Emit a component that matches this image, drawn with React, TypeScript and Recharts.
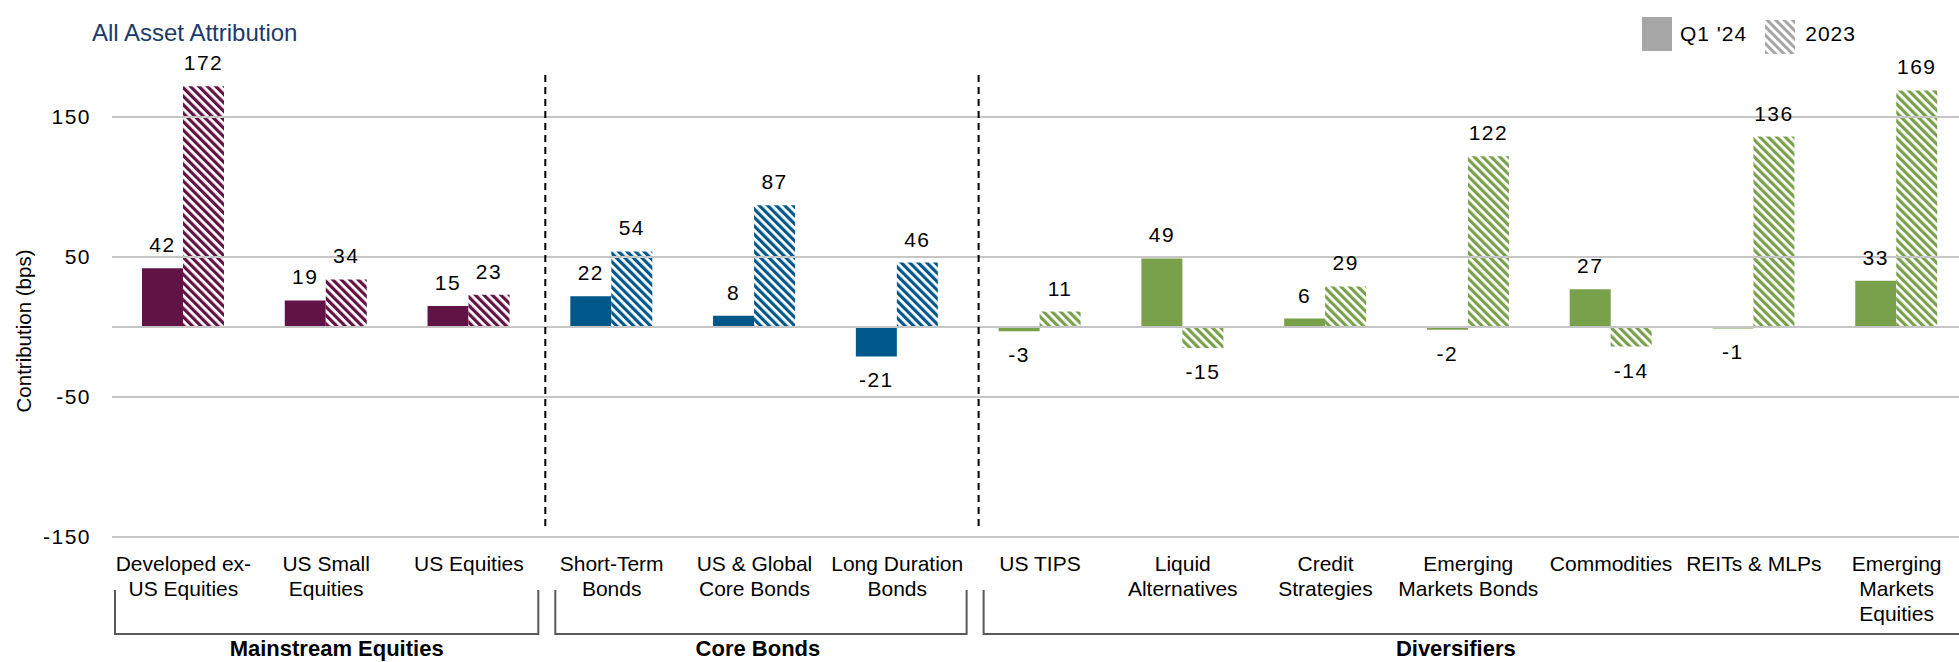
import {
  Bar,
  BarChart,
  Cell,
  LabelList,
  Legend,
  ReferenceLine,
  XAxis,
  YAxis,
} from "recharts";

const categories = [
  "Developed ex-\nUS Equities",
  "US Small\nEquities",
  "US Equities",
  "Short-Term\nBonds",
  "US & Global\nCore Bonds",
  "Long Duration\nBonds",
  "US TIPS",
  "Liquid\nAlternatives",
  "Credit\nStrategies",
  "Emerging\nMarkets Bonds",
  "Commodities",
  "REITs & MLPs",
  "Emerging\nMarkets\nEquities",
];
const categoryGroup = [0, 0, 0, 1, 1, 1, 2, 2, 2, 2, 2, 2, 2];
const q1Values = [42, 19, 15, 22, 8, -21, -3, 49, 6, -2, 27, -1, 33];
const fullYearValues = [172, 34, 23, 54, 87, 46, 11, -15, 29, 122, -14, 136, 169];
const groupNames = ["Mainstream Equities", "Core Bonds", "Diversifiers"];
const seriesNames = ["Q1 '24", "2023"];
const yTicks = [-150, -50, 50, 150];
const gridValues = [-150, -50, 0, 50, 150];

const data = categories.map((name, i) => ({
  name,
  group: categoryGroup[i],
  q1: q1Values[i],
  fy: fullYearValues[i],
}));

// layout
const W = 1959;
const H = 662;
const CHART_W = 1975;
const PLOT_LEFT = 112;
const PLOT_RIGHT = 1968;
const PLOT_TOP = 47;
const PLOT_BOTTOM = 537;
const XAXIS_H = 30;
const BAND = (PLOT_RIGHT - PLOT_LEFT) / categories.length;
const FONT = '"Liberation Sans", Arial, sans-serif';
const groupColors = ["#621345", "#00578a", "#79a04b"];
const dividerAt = [3, 6];
const dividerNudge = [5, 10];
const bracketInset = [3, 15, 15];
const groupLabelShift = [10, -3, -19];

function hatchId(g: number) {
  return `hatch-${g}`;
}

function CategoryTick({ x, y, payload }: any) {
  const lines = String(payload.value).split("\n");
  return (
    <text x={x} y={y} textAnchor="middle" fill="#000" fontSize={21} fontFamily={FONT}>
      {lines.map((l, i) => (
        <tspan key={i} x={x} dy={i === 0 ? 26 : 25}>
          {l}
        </tspan>
      ))}
    </text>
  );
}

function LegendContent() {
  return (
    <div
      style={{
        display: "flex",
        alignItems: "center",
        fontFamily: FONT,
        fontSize: 21,
        letterSpacing: 1,
        color: "#000",
      }}
    >
      <svg width={30} height={34}>
        <rect width={30} height={34} fill="#a6a6a6" />
      </svg>
      <span style={{ marginLeft: 8, marginRight: 18 }}>{seriesNames[0]}</span>
      <svg width={30} height={34} style={{ marginTop: 6 }}>
        <defs>
          <pattern id="hatch-legend" patternUnits="userSpaceOnUse" width={6} height={6} patternTransform="rotate(-45)">
            <rect width={6} height={6} fill="#fff" />
            <rect width={3} height={6} fill="#a6a6a6" />
          </pattern>
        </defs>
        <rect width={30} height={34} fill="url(#hatch-legend)" />
      </svg>
      <span style={{ marginLeft: 10 }}>{seriesNames[1]}</span>
    </div>
  );
}

function Overlay() {
  const spans = groupNames.map((_, g) => {
    const idx = categoryGroup.map((v, i) => (v === g ? i : -1)).filter((i) => i >= 0);
    const left = PLOT_LEFT + idx[0] * BAND + bracketInset[g];
    const right = PLOT_LEFT + (idx[idx.length - 1] + 1) * BAND - 2;
    return { left, right };
  });
  return (
    <svg width={W} height={H} style={{ position: "absolute", left: 0, top: 0, pointerEvents: "none" }}>
      <text x={92} y={41} fontSize={24} fill="#1a3a6c" fontFamily={FONT}>
        All Asset Attribution
      </text>
      <text
        x={0}
        y={0}
        transform="translate(31, 331) rotate(-90)"
        textAnchor="middle"
        fontSize={20.5}
        fill="#000"
        fontFamily={FONT}
      >
        Contribution (bps)
      </text>
      {dividerAt.map((d, k) => {
        const x = PLOT_LEFT + d * BAND + dividerNudge[k];
        return (
          <line
            key={d}
            x1={x}
            x2={x}
            y1={75}
            y2={531}
            stroke="#000"
            strokeWidth={2}
            strokeDasharray="7 5"
          />
        );
      })}
      {spans.map((s, g) => (
        <g key={g}>
          <polyline
            points={`${s.left},590 ${s.left},634 ${s.right},634 ${s.right},590`}
            fill="none"
            stroke="#595959"
            strokeWidth={2}
          />
          <text
            x={(s.left + s.right) / 2 + groupLabelShift[g]}
            y={656}
            textAnchor="middle"
            fontSize={22}
            fontWeight="bold"
            fill="#000"
            fontFamily={FONT}
          >
            {groupNames[g]}
          </text>
        </g>
      ))}
    </svg>
  );
}

const valueLabel = { fill: "#000", fontSize: 21, fontFamily: FONT, letterSpacing: 1.5 };

export default function App() {
  return (
    <div
      style={{
        position: "absolute",
        left: 0,
        top: 0,
        width: W,
        height: H,
        overflow: "hidden",
        background: "#fff",
        fontFamily: FONT,
      }}
    >
      <BarChart
        width={CHART_W}
        height={H}
        data={data}
        margin={{ top: PLOT_TOP, right: CHART_W - PLOT_RIGHT, bottom: H - PLOT_BOTTOM - XAXIS_H, left: 0 }}
        barGap={0}
        barSize={41}
      >
        <defs>
          {groupColors.map((c, g) => (
            <pattern
              key={g}
              id={hatchId(g)}
              patternUnits="userSpaceOnUse"
              width={6}
              height={6}
              patternTransform="rotate(-45)"
            >
              <rect width={6} height={6} fill="#fff" />
              <rect width={3.2} height={6} fill={c} />
            </pattern>
          ))}
        </defs>
        <XAxis
          dataKey="name"
          height={XAXIS_H}
          axisLine={false}
          tickLine={false}
          interval={0}
          tick={<CategoryTick />}
        />
        <YAxis
          domain={[-150, 200]}
          ticks={yTicks}
          width={PLOT_LEFT}
          axisLine={false}
          tickLine={false}
          tickMargin={15}
          tick={{ fill: "#000", fontSize: 21, fontFamily: FONT, letterSpacing: 1.5 }}
        />
        {gridValues.map((v) => (
          <ReferenceLine key={v} y={v} stroke="#c6c6c6" strokeWidth={2} />
        ))}
        <Legend
          layout="horizontal"
          verticalAlign="middle"
          align="center"
          content={<LegendContent />}
          wrapperStyle={{ top: 14, left: 1642, width: 300, height: 40 }}
        />
        <Bar dataKey="q1" name={seriesNames[0]} isAnimationActive={false}>
          {data.map((d, i) => (
            <Cell key={i} fill={groupColors[d.group]} />
          ))}
          <LabelList dataKey="q1" position="top" offset={16} {...valueLabel} />
        </Bar>
        <Bar dataKey="fy" name={seriesNames[1]} isAnimationActive={false}>
          {data.map((d, i) => (
            <Cell key={i} fill={`url(#${hatchId(d.group)})`} />
          ))}
          <LabelList dataKey="fy" position="top" offset={16} {...valueLabel} />
        </Bar>
      </BarChart>
      <Overlay />
    </div>
  );
}
